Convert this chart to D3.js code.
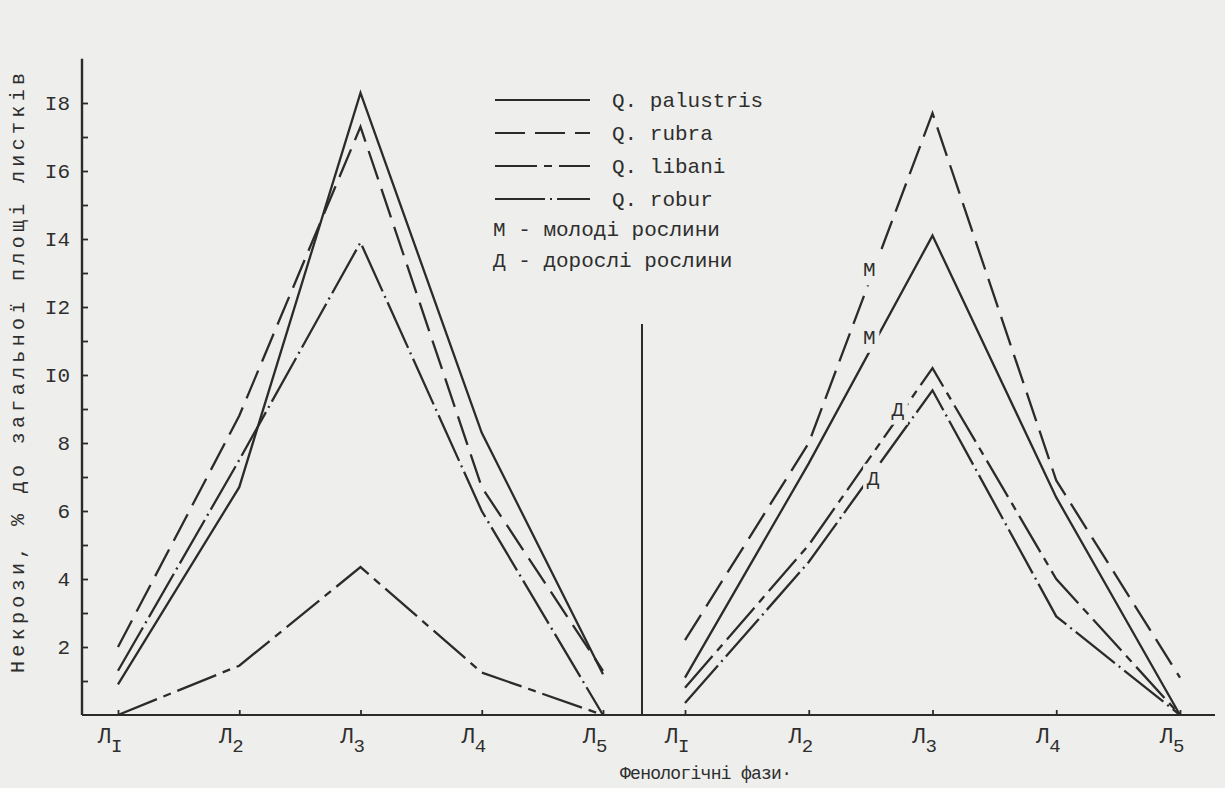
<!DOCTYPE html>
<html>
<head>
<meta charset="utf-8">
<script src="https://cdn.jsdelivr.net/npm/d3@7"></script>
<style>
  body { margin: 0; background: #eeeeec; }
  svg { display: block; }
  text { font-family: "Liberation Mono", "DejaVu Sans Mono", monospace; fill: #2e2e2e; }
</style>
</head>
<body>
<svg id="chart"></svg>
<script>
// phases on the x axis (Л + subscript)
var phases = ["Л1", "Л2", "Л3", "Л4", "Л5"];
var phaseSub = ["I", "2", "3", "4", "5"];

// y ticks every unit, typewriter labels on even ones
var yTicks = d3.range(1, 19);
var yTickLabels = { 2: "2", 4: "4", 6: "6", 8: "8", 10: "I0", 12: "I2", 14: "I4", 16: "I6", 18: "I8" };

// left panel
var leftPalustris = [0.9, 6.7, 18.3, 8.3, 1.2];
var leftRubra = [2.0, 8.8, 17.3, 6.7, 1.3];
var leftRobur = [1.3, 7.5, 13.9, 6.0, 0];
var leftLibani = [0, 1.45, 4.35, 1.25, 0];

// right panel (М - young, Д - adult)
var rightRubraM = [2.2, 8.0, 17.7, 6.9, 1.1];
var rightPalustrisM = [1.1, 7.4, 14.1, 6.4, 0];
var rightLibaniD = [0.8, 5.0, 10.2, 4.0, 0];
var rightRoburD = [0.35, 4.5, 9.55, 2.9, 0];

var legendNames = ["Q. palustris", "Q. rubra", "Q. libani", "Q. robur"];
var legendNotes = ["М - молоді рослини", "Д - дорослі рослини"];

var dash = {
    palustris: null,
    rubra: "30,10",
    libani: "42,7,8,7",
    robur: "50,5,2,5"
};

var width = 1225, height = 788;
var ink = "#2b2b2b";
var paper = "#eeeeec";

var svg = d3.select("#chart").attr("width", width).attr("height", height);

var y = d3.scaleLinear().domain([0, 18]).range([715, 103]);
var xL = d3.scalePoint().domain(phases).range([118, 603]);
var xR = d3.scalePoint().domain(phases).range([685, 1180]);

// axes lines
svg.append("line")
    .attr("x1", 82).attr("x2", 1215)
    .attr("y1", y(0)).attr("y2", y(0))
    .attr("stroke", ink).attr("stroke-width", 2.2);

svg.append("line")
    .attr("x1", 82).attr("x2", 82)
    .attr("y1", y(0)).attr("y2", y(19.3))
    .attr("stroke", ink).attr("stroke-width", 2.4);

// divider between the two panels
svg.append("line")
    .attr("x1", 642).attr("x2", 642)
    .attr("y1", y(0)).attr("y2", y(11.5))
    .attr("stroke", ink).attr("stroke-width", 2);

// y axis
var yAxis = svg.append("g")
    .attr("transform", "translate(82,0)")
    .call(d3.axisLeft(y).tickValues(yTicks).tickSizeInner(-6).tickSizeOuter(0).tickPadding(12)
        .tickFormat(function(d) { return yTickLabels[d] || ""; }));
yAxis.select(".domain").remove();
yAxis.selectAll("line").attr("stroke", ink).attr("stroke-width", 1.8);
yAxis.selectAll("text")
    .attr("fill", "#2e2e2e")
    .style("font-size", "21px")
    .style("font-family", "Liberation Mono, monospace");

svg.append("text")
    .attr("transform", "translate(24,373) rotate(-90)")
    .attr("text-anchor", "middle")
    .attr("textLength", 600)
    .attr("lengthAdjust", "spacing")
    .style("font-size", "20px")
    .text("Некрози, % до загальної площі листків");

// x axes for both panels
[xL, xR].forEach(function(x) {
    var g = svg.append("g")
        .attr("transform", "translate(0," + y(0) + ")")
        .call(d3.axisBottom(x).tickSizeInner(-5).tickSizeOuter(0).tickFormat(""));
    g.select(".domain").remove();
    g.selectAll("line").attr("stroke", ink).attr("stroke-width", 1.8);

    phases.forEach(function(p, i) {
        var t = svg.append("text")
            .attr("x", x(p) - 8)
            .attr("y", y(0) + 28)
            .attr("text-anchor", "middle")
            .style("font-size", "22px");
        t.append("tspan").text("Л");
        t.append("tspan").attr("dy", 9).style("font-size", "19px").text(phaseSub[i]);
    });
});

svg.append("text")
    .attr("x", 620)
    .attr("y", 779)
    .attr("textLength", 172)
    .attr("lengthAdjust", "spacing")
    .style("font-size", "18px")
    .text("Фенологічні фази·");

// lines
var lineL = d3.line().x(function(d, i) { return xL(phases[i]); }).y(function(d) { return y(d); });
var lineR = d3.line().x(function(d, i) { return xR(phases[i]); }).y(function(d) { return y(d); });

var seriesL = [
    { values: leftPalustris, dash: dash.palustris },
    { values: leftRubra, dash: dash.rubra },
    { values: leftRobur, dash: dash.robur },
    { values: leftLibani, dash: dash.libani }
];
// at: share of the way from Л2 to Л3 where the note sits, dy: nudge off the line
var seriesR = [
    { values: rightRubraM, dash: dash.rubra, note: "М", at: 0.49, dy: -12 },
    { values: rightPalustrisM, dash: dash.palustris, note: "М", at: 0.49, dy: -15 },
    { values: rightLibaniD, dash: dash.libani, note: "Д", at: 0.72, dy: -9 },
    { values: rightRoburD, dash: dash.robur, note: "Д", at: 0.52, dy: 5 }
];

function drawSeries(list, line) {
    list.forEach(function(s) {
        svg.append("path")
            .datum(s.values)
            .attr("d", line)
            .attr("fill", "none")
            .attr("stroke", ink)
            .attr("stroke-width", 2.3)
            .attr("stroke-linejoin", "miter")
            .attr("stroke-dasharray", s.dash);
    });
}
drawSeries(seriesL, lineL);
drawSeries(seriesR, lineR);

// М / Д marks on the right panel, sitting on the lines between Л2 and Л3
seriesR.forEach(function(s) {
    var px = xR(phases[1]) + s.at * (xR(phases[2]) - xR(phases[1]));
    var v = s.values[1] + s.at * (s.values[2] - s.values[1]);
    var py = y(v) + s.dy;
    svg.append("rect")
        .attr("x", px - 10).attr("y", py - 14)
        .attr("width", 20).attr("height", 30)
        .attr("fill", paper);
    svg.append("text")
        .attr("x", px).attr("y", py + 7)
        .attr("text-anchor", "middle")
        .style("font-size", "21px")
        .text(s.note);
});

// legend
var legend = svg.append("g");
legendNames.forEach(function(name, i) {
    var key = name.split(" ")[1];
    var ly = 100 + i * 33;
    legend.append("line")
        .attr("x1", 495).attr("x2", 590)
        .attr("y1", ly).attr("y2", ly)
        .attr("stroke", ink).attr("stroke-width", 2)
        .attr("stroke-dasharray", dash[key]);
    legend.append("text")
        .attr("x", 612).attr("y", ly + 7)
        .style("font-size", "21px")
        .text(name);
});
legendNotes.forEach(function(note, i) {
    legend.append("text")
        .attr("x", 493).attr("y", 236 + i * 31)
        .style("font-size", "21px")
        .text(note);
});
</script>
</body>
</html>
